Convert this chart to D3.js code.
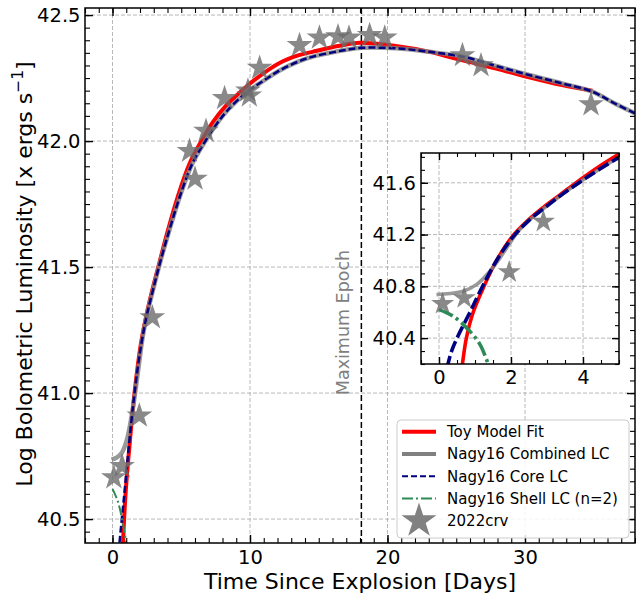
<!DOCTYPE html>
<html>
<head>
<meta charset="utf-8">
<script src="https://cdn.jsdelivr.net/npm/d3@7"></script>
<style>
  body { margin: 0; background: #fff; }
  svg { font-family: "DejaVu Sans", sans-serif; }
</style>
</head>
<body>
<div id="chart"></div>
<script>
// --- values ---
// toy model fit (red)
var toyT = [0.6, 0.65, 0.76, 0.95, 1.25, 1.6, 2.05, 2.47, 2.9, 3.33, 4.0, 4.75, 5.6, 6.46, 7.3, 8.16, 9.4, 10.5, 12.15, 13.5, 14.6, 16.5, 18.0, 20.6, 23.05, 25.46, 27.9, 30.3, 32.7, 34.9];
var toyL = [40.1, 40.2, 40.4, 40.6, 40.8, 41.0, 41.19, 41.31, 41.41, 41.5, 41.64, 41.78, 41.91, 42.0, 42.075, 42.135, 42.2, 42.25, 42.31, 42.34, 42.355, 42.378, 42.39, 42.377, 42.354, 42.32, 42.288, 42.253, 42.222, 42.2];

// Nagy16 core (navy dashed)
var coreT = [0.15, 0.25, 0.35, 0.5, 0.86, 1.21, 1.6, 2.05, 2.5, 2.95, 3.42, 4.1, 4.9, 5.8, 6.75, 7.6, 8.5, 9.8, 11.0, 12.15, 13.5, 14.57, 16.0, 17.0, 18.1, 20.6, 23.05, 25.46, 27.9, 30.3, 32.7, 34.9, 36.5, 38.0];
var coreL = [40.05, 40.2, 40.3, 40.4, 40.6, 40.8, 41.0, 41.18, 41.31, 41.41, 41.51, 41.64, 41.78, 41.91, 42.0, 42.07, 42.13, 42.195, 42.24, 42.28, 42.315, 42.335, 42.352, 42.362, 42.37, 42.368, 42.354, 42.335, 42.298, 42.262, 42.229, 42.196, 42.15, 42.11];

// Nagy16 combined (gray)
var combT = [-0.07, 0.3, 0.67, 1.04, 1.41, 1.69, 1.97, 2.2, 2.5, 2.95, 3.42, 4.1, 4.9, 5.8, 6.75, 7.6, 8.5, 9.8, 11.0, 12.15, 13.5, 14.57, 16.0, 17.0, 18.1, 20.6, 23.05, 25.46, 27.9, 30.3, 32.7, 34.9, 36.5, 38.0];
var combL = [40.736, 40.744, 40.762, 40.813, 40.915, 41.018, 41.134, 41.225, 41.31, 41.41, 41.51, 41.64, 41.78, 41.91, 42.0, 42.07, 42.13, 42.195, 42.24, 42.28, 42.315, 42.335, 42.352, 42.362, 42.37, 42.368, 42.354, 42.335, 42.298, 42.262, 42.229, 42.196, 42.15, 42.11];

// Nagy16 shell, n=2 (green dash-dot)
var shellT = [0, 0.39, 0.81, 1.14, 1.34, 1.55, 1.75];
var shellL = [40.62, 40.57, 40.467, 40.35, 40.22, 40.07, 39.9];

// 2022crv observations
var obsT = [0.1, 0.7, 1.95, 2.9, 5.6, 6.0, 6.8, 8.15, 9.85, 9.95, 10.7, 13.6, 15.05, 16.4, 17.2, 18.7, 19.8, 25.45, 26.8, 34.8];
var obsL = [40.665, 40.71, 40.91, 41.30, 41.96, 41.85, 42.04, 42.17, 42.20, 42.18, 42.29, 42.38, 42.41, 42.415, 42.41, 42.42, 42.41, 42.34, 42.30, 42.145];

var maxEpoch = 18.1;

var xTicks = [0, 10, 20, 30];
var yTicks = [40.5, 41.0, 41.5, 42.0, 42.5];
var insetXTicks = [0, 2, 4];
var insetYTicks = [40.4, 40.8, 41.2, 41.6];

var legendLabels = ['Toy Model Fit', 'Nagy16 Combined LC', 'Nagy16 Core LC', 'Nagy16 Shell LC (n=2)', '2022crv'];

// --- chart ---
var W = 636, H = 597;
var svg = d3.select('#chart').append('svg').attr('width', W).attr('height', H);

var x = d3.scaleLinear().domain([-2, 38]).range([85, 635]);
var y = d3.scaleLinear().domain([40.405, 42.528]).range([543, 8]);

var xi = d3.scaleLinear().domain([-0.5, 5.0]).range([421, 619]);
var yi = d3.scaleLinear().domain([40.2, 41.83]).range([364, 153]);

var styles = {
    toy:   {stroke: 'red', width: 4, dash: null, opacity: 1, iw: 3.6},
    comb:  {stroke: '#808080', width: 4.5, dash: null, opacity: 0.8, iw: 3.6},
    core:  {stroke: '#000080', width: 2.5, dash: '7,3', opacity: 1, iw: 3.6, idash: '12,4'},
    shell: {stroke: '#2e8b57', width: 2, dash: '10,3,2,3', opacity: 1, iw: 3.6, idash: '15,4,3,4'}
};

function clean(a) {
    a.select('.domain').remove();
    a.attr('font-family', null).attr('font-size', null);
}

function grid(g, x, y, o) {
    var x0 = x.range()[0], x1 = x.range()[1], y0 = y.range()[0], y1 = y.range()[1];
    g.append('g').selectAll('line').data(o.xMajor).enter().append('line')
        .attr('x1', function(d) { return x(d) }).attr('x2', function(d) { return x(d) })
        .attr('y1', y1).attr('y2', y0)
        .attr('stroke', '#b0b0b0').attr('stroke-dasharray', '4,2').attr('stroke-width', 0.9);
    g.append('g').selectAll('line').data(o.yMajor).enter().append('line')
        .attr('y1', function(d) { return y(d) }).attr('y2', function(d) { return y(d) })
        .attr('x1', x0).attr('x2', x1)
        .attr('stroke', '#b0b0b0').attr('stroke-dasharray', '4,2').attr('stroke-width', 0.9);
}

function ticks(g, x, y, o) {
    var x0 = x.range()[0], x1 = x.range()[1], y0 = y.range()[0], y1 = y.range()[1];
    var specs = [
        [d3.axisBottom, x, 'translate(0,' + y0 + ')', true, true],
        [d3.axisTop, x, 'translate(0,' + y1 + ')', false, true],
        [d3.axisLeft, y, 'translate(' + x0 + ',0)', true, false],
        [d3.axisRight, y, 'translate(' + x1 + ',0)', false, false]
    ];
    specs.forEach(function(s) {
        var isX = s[4];
        var minor = s[0](s[1]).tickValues(isX ? o.xMinor : o.yMinor).tickSize(-o.minor).tickFormat('');
        g.append('g').attr('transform', s[2]).call(minor).call(clean)
            .selectAll('line').attr('stroke-width', 1.1);
        var major = s[0](s[1]).tickValues(isX ? o.xMajor : o.yMajor).tickSize(-o.major)
            .tickPadding(isX ? o.padX : o.padY)
            .tickFormat(s[3] ? (isX ? o.fmtX : o.fmtY) : '');
        var a = g.append('g').attr('transform', s[2]).call(major).call(clean);
        a.selectAll('line').attr('stroke-width', 1.4);
        a.selectAll('text').attr('font-size', o.font).attr('fill', '#000');
    });
    g.append('rect').attr('x', x0).attr('y', y1).attr('width', x1 - x0).attr('height', y0 - y1)
        .attr('fill', 'none').attr('stroke', '#000').attr('stroke-width', 1.5);
}

function drawSeries(g, x, y, k) {
    var line = d3.line()
        .x(function(d) { return x(d[0]) })
        .y(function(d) { return y(d[1]) })
        .curve(d3.curveCatmullRom.alpha(0.5));
    [['toy', toyT, toyL], ['comb', combT, combL], ['core', coreT, coreL], ['shell', shellT, shellL]]
        .forEach(function(r) {
            var st = styles[r[0]];
            var dash = k.inset ? (st.idash || st.dash) : st.dash;
            g.append('path')
                .datum(d3.zip(r[1], r[2]))
                .attr('d', line)
                .attr('fill', 'none')
                .attr('stroke', st.stroke)
                .attr('stroke-width', k.inset ? st.iw : st.width)
                .attr('stroke-opacity', st.opacity)
                .attr('stroke-dasharray', dash);
        });
    g.selectAll('path.star')
        .data(d3.zip(obsT, obsL))
        .enter()
        .append('path')
        .attr('class', 'star')
        .attr('d', d3.symbol().type(d3.symbolStar).size(k.star))
        .attr('transform', function(d) { return 'translate(' + x(d[0]) + ',' + y(d[1]) + ')' })
        .attr('fill', '#6b6b6b')
        .attr('fill-opacity', 0.8);
}

var defs = svg.append('defs');
defs.append('clipPath').attr('id', 'clipMain').append('rect')
    .attr('x', 85).attr('y', 8).attr('width', 550).attr('height', 535);
defs.append('clipPath').attr('id', 'clipInset').append('rect')
    .attr('x', 421).attr('y', 153).attr('width', 198).attr('height', 211);

// main axes
var main = svg.append('g');
grid(main, x, y, {xMajor: xTicks, yMajor: yTicks});

var plot = main.append('g').attr('clip-path', 'url(#clipMain)');
plot.append('line')
    .attr('x1', x(maxEpoch)).attr('x2', x(maxEpoch))
    .attr('y1', 8).attr('y2', 543)
    .attr('stroke', '#000').attr('stroke-width', 1.5).attr('stroke-dasharray', '6,3');
drawSeries(plot, x, y, {star: 205});

main.append('text')
    .attr('transform', 'translate(' + x(17.2) + ',' + y(41.28) + ') rotate(-90)')
    .attr('text-anchor', 'middle')
    .attr('font-size', 17.5)
    .attr('fill', '#808080')
    .text('Maximum Epoch');

ticks(main, x, y, {
    xMajor: xTicks, xMinor: d3.range(-2, 39),
    yMajor: yTicks, yMinor: d3.range(809, 851).map(function(v) { return v / 20 }),
    major: 8, minor: 5, padX: 7, padY: 4.5, font: 19.5,
    fmtX: d3.format('d'), fmtY: d3.format('.1f')
});

// axis titles
svg.append('text')
    .attr('x', 360).attr('y', 589)
    .attr('text-anchor', 'middle')
    .attr('font-size', 22)
    .text('Time Since Explosion [Days]');

var yl = svg.append('text')
    .attr('transform', 'translate(32,274) rotate(-90)')
    .attr('text-anchor', 'middle')
    .attr('font-size', 22);
yl.append('tspan').text('Log Bolometric Luminosity [x ergs s');
yl.append('tspan').attr('font-size', 15.5).attr('dy', -9).text('\u22121');
yl.append('tspan').attr('dy', 9).text(']');

// inset
var inset = svg.append('g');
inset.append('rect').attr('x', 421).attr('y', 153).attr('width', 198).attr('height', 211).attr('fill', '#fff');
grid(inset, xi, yi, {xMajor: insetXTicks, yMajor: insetYTicks});
var iplot = inset.append('g').attr('clip-path', 'url(#clipInset)');
drawSeries(iplot, xi, yi, {star: 165, inset: true});
ticks(inset, xi, yi, {
    xMajor: insetXTicks, xMinor: d3.range(-1, 11).map(function(v) { return v / 2 }),
    yMajor: insetYTicks, yMinor: d3.range(402, 419).map(function(v) { return v / 10 }),
    major: 7, minor: 4, padX: 6.5, padY: 5, font: 19.5,
    fmtX: d3.format('d'), fmtY: d3.format('.1f')
});

// legend
var lg = svg.append('g');
lg.append('rect')
    .attr('x', 397).attr('y', 420).attr('width', 232).attr('height', 118).attr('rx', 4)
    .attr('fill', '#fff').attr('fill-opacity', 0.85)
    .attr('stroke', '#cccccc').attr('stroke-width', 1);
var keys = ['toy', 'comb', 'core', 'shell', 'obs'];
var rows = lg.selectAll('g.row')
    .data(legendLabels)
    .enter()
    .append('g')
    .attr('class', 'row')
    .attr('transform', function(d, i) { return 'translate(0,' + (431.7 + i * 22.3) + ')' });
rows.each(function(d, i) {
    var r = d3.select(this);
    var k = keys[i];
    if (k === 'obs') {
        r.append('path')
            .attr('d', d3.symbol().type(d3.symbolStar).size(380))
            .attr('transform', 'translate(419,0)')
            .attr('fill', '#6b6b6b').attr('fill-opacity', 0.85);
    } else {
        var st = styles[k];
        r.append('line')
            .attr('x1', 402).attr('x2', 436).attr('y1', 0).attr('y2', 0)
            .attr('stroke', st.stroke)
            .attr('stroke-width', k === 'core' || k === 'shell' ? 2 : 4)
            .attr('stroke-dasharray', k === 'core' ? '6,3' : (k === 'shell' ? '11,3,2,3' : null));
    }
    r.append('text')
        .attr('x', 447).attr('dy', '0.35em')
        .attr('font-size', 15)
        .text(d);
});
</script>
</body>
</html>
